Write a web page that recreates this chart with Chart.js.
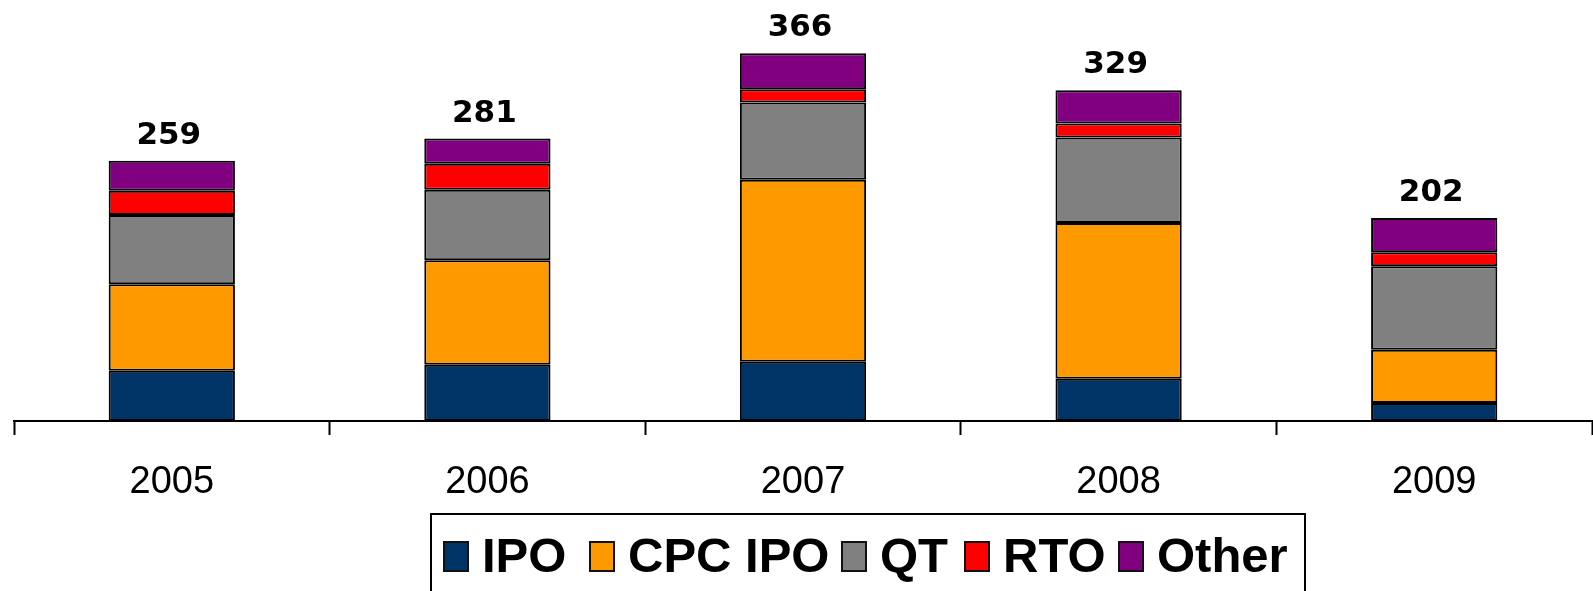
<!DOCTYPE html>
<html>
<head>
<meta charset="utf-8">
<title>Listings by type, 2005-2009</title>
<script src="https://cdn.jsdelivr.net/npm/chart.js@4.4.1/dist/chart.umd.min.js"></script>
<style>
	html, body { margin: 0; padding: 0; background: #fff; }
	#wrap { position: relative; width: 1593px; height: 591px; overflow: hidden; }
	#legend {
		position: absolute; left: 430px; top: 513px; width: 872px; height: 100px;
		border: 2px solid #000; background: #fff; box-sizing: content-box;
		font-family: "Liberation Sans", Arial, sans-serif; font-weight: bold; font-size: 49px;
	}
	#legend .item { position: absolute; top: 0; height: 80px; }
	#legend .box {
		position: absolute; top: 26px; width: 22px; height: 27px; border: 2px solid #111;
	}
	#legend .txt { position: absolute; top: 12px; white-space: nowrap; line-height: 56px; }
</style>
</head>
<body>
<div id="wrap">
	<canvas id="chart"></canvas>
	<div id="legend"></div>
</div>
<script>
(function () {
	'use strict';

	// Years on the category axis.
	var YEARS = ['2005', '2006', '2007', '2008', '2009'];

	// Series values (bottom to top of each stack).
	var IPO     = [50, 56, 59, 42, 18];
	var CPC_IPO = [86, 104, 181, 155, 53];
	var QT      = [69, 70, 77, 85, 83];
	var RTO     = [24, 26, 13, 14, 14];
	var OTHER   = [30, 25, 36, 33, 34];

	// Totals printed above each stack.
	var TOTALS = [259, 281, 366, 329, 202];

	var SERIES_NAMES = ['IPO', 'CPC IPO', 'QT', 'RTO', 'Other'];

	var COLORS = {
		ipo:   '#003366',
		cpc:   '#FF9900',
		qt:    '#808080',
		rto:   '#FF0000',
		other: '#800080',
		line:  '#000000',
	};

	// Legend item x offsets inside the box (px from its inner left edge).
	var LEGEND_X = [11, 157, 409, 532, 686];

	function makeSet(label, data, color) {
		return {
			label: label,
			data: data,
			backgroundColor: color,
			borderColor: COLORS.line,
			borderWidth: 2,
			borderSkipped: false,
			categoryPercentage: 1.0,
			barPercentage: 0.4,
		};
	}

	// Prints the total above the top segment of every stack.
	var totalsPlugin = {
		id: 'totals',
		afterDatasetsDraw: function (chart) {
			var ctx = chart.ctx;
			var meta = chart.getDatasetMeta(chart.data.datasets.length - 1);
			ctx.save();
			ctx.font = 'bold 31px "DejaVu Sans", Verdana, sans-serif';
			ctx.fillStyle = '#000';
			ctx.textAlign = 'center';
			ctx.textBaseline = 'alphabetic';
			meta.data.forEach(function (bar, i) {
				ctx.fillText(String(TOTALS[i]), bar.x - 3, bar.y - 17);
			});
			ctx.restore();
		},
	};

	var chart = new Chart(document.getElementById('chart'), {
		type: 'bar',
		data: {
			labels: YEARS,
			datasets: [
				makeSet(SERIES_NAMES[0], IPO, COLORS.ipo),
				makeSet(SERIES_NAMES[1], CPC_IPO, COLORS.cpc),
				makeSet(SERIES_NAMES[2], QT, COLORS.qt),
				makeSet(SERIES_NAMES[3], RTO, COLORS.rto),
				makeSet(SERIES_NAMES[4], OTHER, COLORS.other),
			],
		},
		options: {
			responsive: true,
			maintainAspectRatio: false,
			animation: false,
			layout: { padding: { left: 14, right: 1, top: 19, bottom: 0 } },
			plugins: {
				legend: { display: false },
				tooltip: { enabled: false },
			},
			scales: {
				x: {
					stacked: true,
					grid: {
						offset: true,
						drawOnChartArea: false,
						drawTicks: true,
						tickLength: 14,
						tickWidth: 2,
						tickColor: '#000',
					},
					border: { display: true, color: '#000', width: 2 },
					ticks: {
						color: '#000',
						padding: 25,
						font: { family: '"Liberation Sans", Arial, sans-serif', size: 38 },
					},
					afterFit: function (scale) {
						scale.height = 170;
					},
				},
				y: {
					stacked: true,
					display: false,
					min: 0,
					max: 400,
				},
			},
		},
		plugins: [totalsPlugin],
	});

	// Legend built from the chart's own datasets.
	var legend = document.getElementById('legend');
	chart.data.datasets.forEach(function (ds, i) {
		var item = document.createElement('div');
		item.className = 'item';
		item.style.left = LEGEND_X[i] + 'px';
		var box = document.createElement('span');
		box.className = 'box';
		box.style.left = '0px';
		box.style.background = ds.backgroundColor;
		var txt = document.createElement('span');
		txt.className = 'txt';
		txt.style.left = '39px';
		txt.textContent = ds.label;
		item.appendChild(box);
		item.appendChild(txt);
		legend.appendChild(item);
	});
}());
</script>
</body>
</html>
